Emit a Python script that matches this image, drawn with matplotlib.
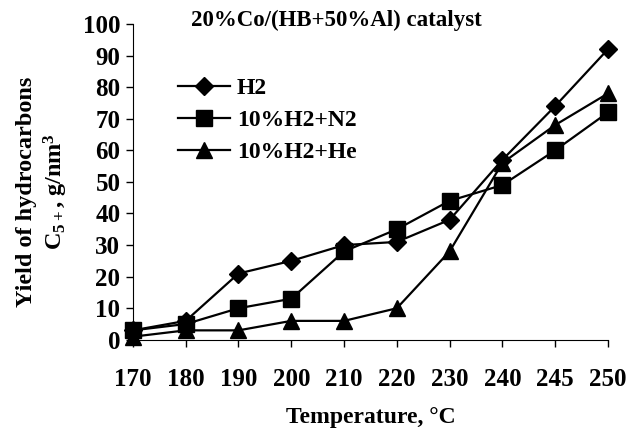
import numpy as np
import matplotlib
matplotlib.use('Agg')
import matplotlib.pyplot as plt

plt.rcParams['font.family'] = ['Liberation Serif', 'DejaVu Serif']
plt.rcParams['font.weight'] = 'bold'
plt.rcParams['mathtext.fontset'] = 'custom'
plt.rcParams['mathtext.rm'] = 'Liberation Serif:bold'
plt.rcParams['mathtext.it'] = 'Liberation Serif:bold'
plt.rcParams['mathtext.bf'] = 'Liberation Serif:bold'

# 数据
temps = ['170', '180', '190', '200', '210', '220', '230', '240', '245', '250']
h2 = [3, 6, 21, 25, 30, 31, 38, 57, 74, 92]
h2_n2 = [3, 5, 10, 13, 28, 35, 44, 49, 60, 72]
h2_he = [1, 3, 3, 6, 6, 10, 28, 56, 68, 78]

fig = plt.figure(figsize=(6.3, 4.28), dpi=100)
ax = fig.add_axes([0.211, 0.206, 0.754, 0.738])
x = np.arange(len(temps))

ax.plot(x, h2, color='black', lw=1.6, marker='D', ms=9, label='H2', clip_on=False, zorder=3)
ax.plot(x, h2_n2, color='black', lw=1.6, marker='s', ms=11, label='10%H2+N2', clip_on=False, zorder=3)
ax.plot(x, h2_he, color='black', lw=1.6, marker='^', ms=11, label='10%H2+He', clip_on=False, zorder=3)

ax.set_xlim(0, 9)
ax.set_ylim(0, 100)
ax.set_xticks(x)
ax.set_xticklabels(temps)
ax.set_yticks(range(0, 101, 10))
ax.tick_params(axis='both', labelsize=18, direction='out', length=5, width=1)
ax.tick_params(axis='x', pad=15)
ax.tick_params(axis='y', pad=4)
for s in ['top', 'right']:
    ax.spines[s].set_visible(False)

ax.set_xlabel('Temperature, °C', fontsize=17, fontweight='bold', labelpad=12)
ax.set_ylabel('Yield of hydrocarbons\nC$_{5+}$, g/nm$^3$', fontsize=17.5, fontweight='bold',
              linespacing=1.2)
ax.yaxis.set_label_coords(-0.133, 0.47)
fig.text(0.534, 0.953, '20%Co/(HB+50%Al) catalyst', fontsize=16.5, fontweight='bold',
         ha='center', va='center')

ax.legend(loc='upper left', bbox_to_anchor=(0.095, 0.83), frameon=False, fontsize=17,
          handlelength=2.2, labelspacing=0.45, handletextpad=0.3, borderpad=0, borderaxespad=0)

fig.savefig('out.png', dpi=100)
